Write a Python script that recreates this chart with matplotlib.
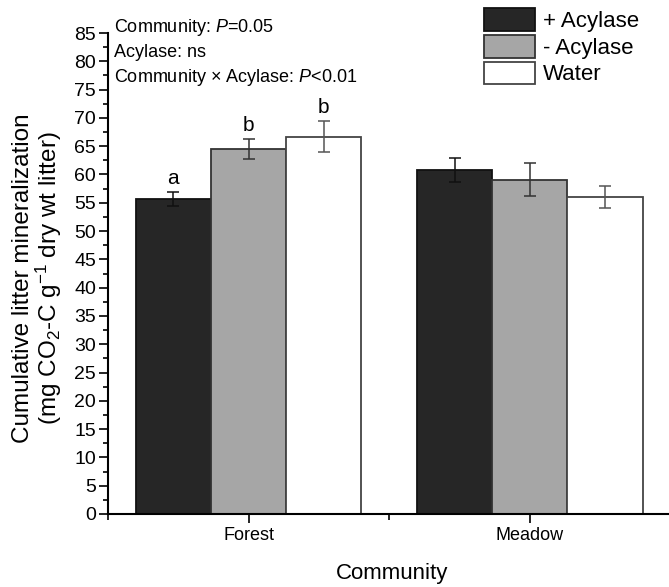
import matplotlib
matplotlib.use("Agg")
import matplotlib.pyplot as plt
from matplotlib.patches import Patch
from matplotlib.ticker import MultipleLocator, FixedLocator
import numpy as np

plt.rcParams['font.family'] = ['Liberation Sans', 'DejaVu Sans']
plt.rcParams['mathtext.fontset'] = 'custom'
plt.rcParams['mathtext.rm'] = 'Liberation Sans'
plt.rcParams['mathtext.it'] = 'Liberation Sans:italic'
plt.rcParams['mathtext.default'] = 'regular'

communities = ["Forest", "Meadow"]
treatments = ["+ Acylase", "- Acylase", "Water"]
values = {
    "+ Acylase": [55.7, 60.8],
    "- Acylase": [64.5, 59.1],
    "Water": [66.7, 56.0],
}
errors = {
    "+ Acylase": [1.2, 2.1],
    "- Acylase": [1.7, 2.9],
    "Water": [2.8, 2.0],
}
letters = {
    "+ Acylase": ["a", ""],
    "- Acylase": ["b", ""],
    "Water": ["b", ""],
}
annotations = ["Community: $\\mathit{P}$=0.05",
               "Acylase: ns",
               "Community \u00d7 Acylase: $\\mathit{P}$<0.01"]

face = {"+ Acylase": "#262626", "- Acylase": "#a6a6a6", "Water": "#ffffff"}
edge = {"+ Acylase": "#111111", "- Acylase": "#333333", "Water": "#444444"}
ecol = {"+ Acylase": "#111111", "- Acylase": "#333333", "Water": "#555555"}

W, H = 669, 587
fig = plt.figure(figsize=(W / 100, H / 100), dpi=100)
ax = fig.add_axes([108 / W, (H - 514) / H, (W - 108) / W, (514 - 33) / H])

centers = np.array([1.0, 3.0])
bw = 0.535
for i, t in enumerate(treatments):
    x = centers + (i - 1) * bw
    ax.bar(x, values[t], width=bw, color=face[t], edgecolor=edge[t], linewidth=1.3, zorder=2)
    ax.errorbar(x, values[t], yerr=errors[t], fmt='none', ecolor=ecol[t],
                elinewidth=1.1, capsize=4.5, capthick=1.1, zorder=3)
    for xi, v, e, L in zip(x, values[t], errors[t], letters[t]):
        if L:
            ax.text(xi, v + e + 1.4, L, ha='center', va='baseline', fontsize=15)

ax.set_xlim(0, 3.99)
ax.set_ylim(0, 85)
ax.spines['top'].set_visible(False)
ax.spines['right'].set_visible(False)
for s in ['left', 'bottom']:
    ax.spines[s].set_linewidth(1.5)

ax.yaxis.set_major_locator(MultipleLocator(5))
ax.yaxis.set_minor_locator(MultipleLocator(2.5))
ax.xaxis.set_major_locator(FixedLocator(centers))
ax.xaxis.set_minor_locator(FixedLocator([0, 2, 4]))
ax.set_xticklabels(communities)
ax.tick_params(axis='y', which='major', length=6.5, width=1.2, labelsize=14, pad=2)
ax.tick_params(axis='y', which='minor', length=3.5, width=1.2)
ax.tick_params(axis='x', which='major', length=6.5, width=1.2, labelsize=13, pad=3)
ax.tick_params(axis='x', which='minor', length=4.5, width=1.2)

fig.text(0.5 + 108 / W / 2 + 0.005, 1 - 574 / H, "Community", ha='center', va='center', fontsize=16)
fig.text(38 / W, 1 - 278 / H,
         "Cumulative litter mineralization\n(mg CO$_2$-C g$^{-1}$ dry wt litter)",
         rotation=90, ha='center', va='center', fontsize=17.5, multialignment='center',
         linespacing=0.95)

for k, s in enumerate(annotations):
    fig.text(114 / W, 1 - (27 + 25.5 * k) / H, s, ha='left', va='center', fontsize=13)

handles = [Patch(facecolor=face[t], edgecolor=edge[t], linewidth=1.3) for t in treatments]
fig.legend(handles, treatments, loc='upper left', bbox_to_anchor=(484 / W, 1 - 8 / H),
           frameon=False, fontsize=16, handlelength=2.3, handleheight=1.2,
           labelspacing=0.13, handletextpad=0.36, borderpad=0, borderaxespad=0)

fig.savefig("out.png", dpi=100)
